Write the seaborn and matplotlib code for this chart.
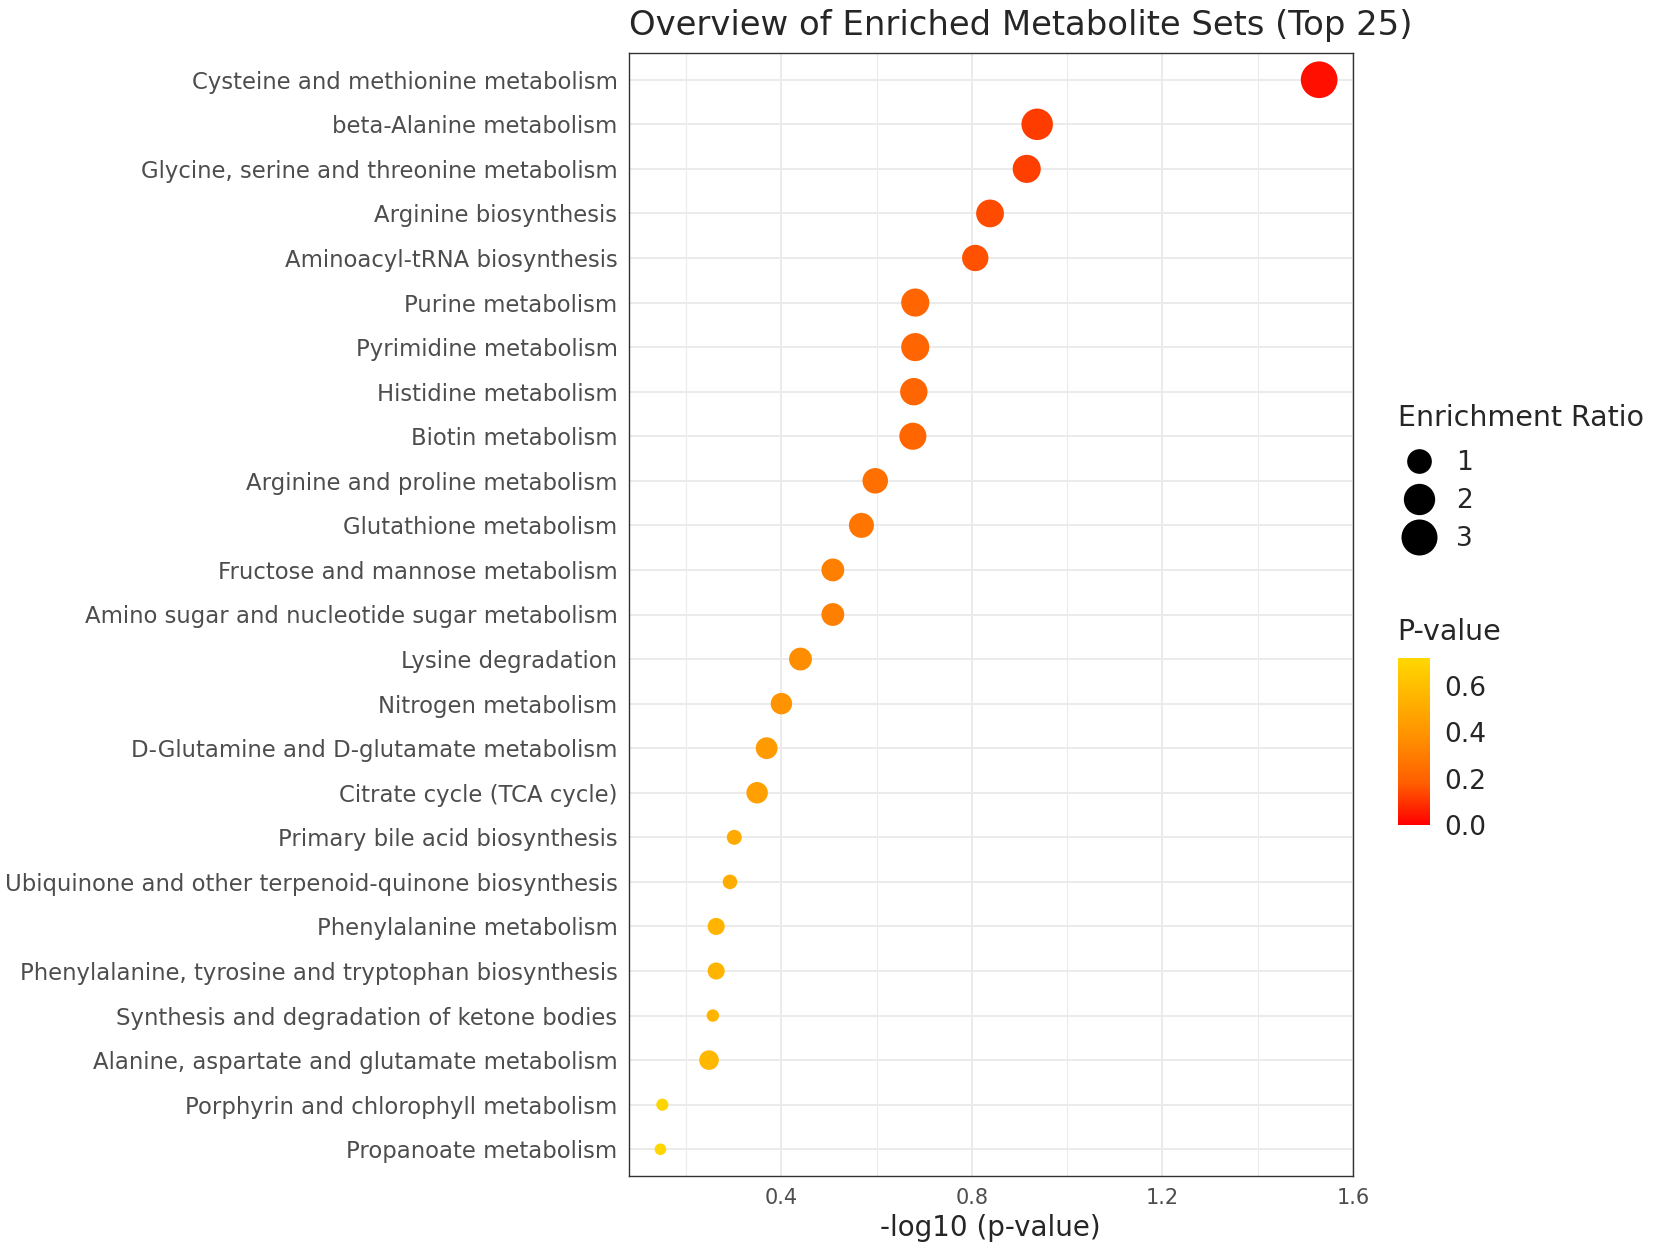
import numpy as np
import pandas as pd
import seaborn as sns
import matplotlib
import matplotlib.pyplot as plt
from matplotlib.colors import LinearSegmentedColormap, PowerNorm, Normalize
from matplotlib.lines import Line2D
from matplotlib.cm import ScalarMappable

sns.set_style("white")
plt.rcParams["font.family"] = ["DejaVu Sans"]

# pathways, top to bottom
pathways = [
    "Cysteine and methionine metabolism",
    "beta-Alanine metabolism",
    "Glycine, serine and threonine metabolism",
    "Arginine biosynthesis",
    "Aminoacyl-tRNA biosynthesis",
    "Purine metabolism",
    "Pyrimidine metabolism",
    "Histidine metabolism",
    "Biotin metabolism",
    "Arginine and proline metabolism",
    "Glutathione metabolism",
    "Fructose and mannose metabolism",
    "Amino sugar and nucleotide sugar metabolism",
    "Lysine degradation",
    "Nitrogen metabolism",
    "D-Glutamine and D-glutamate metabolism",
    "Citrate cycle (TCA cycle)",
    "Primary bile acid biosynthesis",
    "Ubiquinone and other terpenoid-quinone biosynthesis",
    "Phenylalanine metabolism",
    "Phenylalanine, tyrosine and tryptophan biosynthesis",
    "Synthesis and degradation of ketone bodies",
    "Alanine, aspartate and glutamate metabolism",
    "Porphyrin and chlorophyll metabolism",
    "Propanoate metabolism",
]
neg_log_p = [1.529, 0.937, 0.915, 0.838, 0.807, 0.681, 0.681, 0.678, 0.676,
             0.597, 0.568, 0.508, 0.508, 0.440, 0.400, 0.369, 0.349, 0.301,
             0.292, 0.263, 0.263, 0.256, 0.248, 0.150, 0.146]
p_values = [0.030, 0.116, 0.122, 0.145, 0.156, 0.208, 0.208, 0.210, 0.211,
            0.253, 0.270, 0.310, 0.310, 0.363, 0.398, 0.428, 0.448, 0.500,
            0.511, 0.546, 0.546, 0.555, 0.565, 0.708, 0.715]
enrichment_ratio = [3.17, 2.03, 1.46, 1.41, 1.21, 1.46, 1.46, 1.35, 1.31,
                    1.10, 1.04, 0.80, 0.80, 0.80, 0.67, 0.70, 0.67, 0.27,
                    0.255, 0.365, 0.365, 0.20, 0.52, 0.195, 0.19]

df = pd.DataFrame({
    "Pathway": pathways,
    "negLogP": neg_log_p,
    "P-value": p_values,
    "Enrichment Ratio": enrichment_ratio,
})

# red -> gold gradient
cmap = LinearSegmentedColormap.from_list(
    "redgold", ["#FF0000", "#FF5E00", "#FF8C00", "#FFB200", "#FFD700"])
hue_norm = Normalize(0, 0.72)
size_norm = PowerNorm(gamma=0.72, vmin=0.19, vmax=3.17)
size_range = (70, 698)

fig = plt.figure(figsize=(16.54, 12.5), dpi=100)
ax = fig.add_axes([0.380, 0.0592, 0.438, 0.8984])

sns.scatterplot(
    data=df, x="negLogP", y="Pathway",
    hue="P-value", size="Enrichment Ratio",
    palette=cmap, hue_norm=hue_norm,
    sizes=size_range, size_norm=size_norm,
    linewidth=0, legend=False, ax=ax, zorder=3,
)

n = len(pathways)
ax.set_ylim(n - 0.4, -0.6)
ax.set_xlim(0.079, 1.6)
ax.set_xticks([0.4, 0.8, 1.2, 1.6])
ax.set_xticks([0.2, 0.6, 1.0, 1.4], minor=True)

ax.set_axisbelow(True)
ax.grid(which="major", color="#EBEBEB", lw=1.4)
ax.grid(which="minor", axis="x", color="#EBEBEB", lw=0.8)
ax.tick_params(which="minor", length=0)
ax.tick_params(which="major", length=4, width=1.1, color="#333333",
               labelcolor="#4D4D4D")
ax.tick_params(axis="y", labelsize=16.4, pad=4)
ax.tick_params(axis="x", labelsize=15, pad=5)
for s in ax.spines.values():
    s.set_color("#333333")
    s.set_linewidth(1.0)

ax.set_ylabel("")
ax.set_xlabel("-log10 (p-value)", fontsize=20, labelpad=4)
ax.set_title("Overview of Enriched Metabolite Sets (Top 25)", loc="left",
             fontsize=24.4, pad=13)

# size legend
ratio_ticks = [1, 2, 3]
handles = []
for v in ratio_ticks:
    area = size_range[0] + (size_range[1] - size_range[0]) * float(size_norm(v))
    handles.append(Line2D([], [], ls="", marker="o", color="black",
                          markeredgewidth=0, markersize=np.sqrt(area)))
leg = fig.legend(handles, [str(v) for v in ratio_ticks], title="Enrichment Ratio",
                 loc="upper left", bbox_to_anchor=(0.845, 0.677),
                 frameon=False, fontsize=19, title_fontsize=20.5,
                 borderpad=0, borderaxespad=0, handlelength=1.6,
                 handletextpad=0.6, labelspacing=0.46)
leg._legend_box.align = "left"
leg._legend_box.sep = 13

# colour bar
fig.text(0.845, 0.494, "P-value", fontsize=20.5, va="center", ha="left")
cax = fig.add_axes([0.845, 0.34, 0.0195, 0.1336])
sm = ScalarMappable(norm=hue_norm, cmap=cmap)
cbar = fig.colorbar(sm, cax=cax, ticks=[0.0, 0.2, 0.4, 0.6])
cbar.outline.set_visible(False)
cbar.ax.set_yticklabels(["0.0", "0.2", "0.4", "0.6"])
cbar.ax.tick_params(direction="in", color="white", length=5, width=1,
                    left=True, right=True, labelsize=19, pad=10)

fig.savefig("out.png", dpi=100)
plt.close(fig)
